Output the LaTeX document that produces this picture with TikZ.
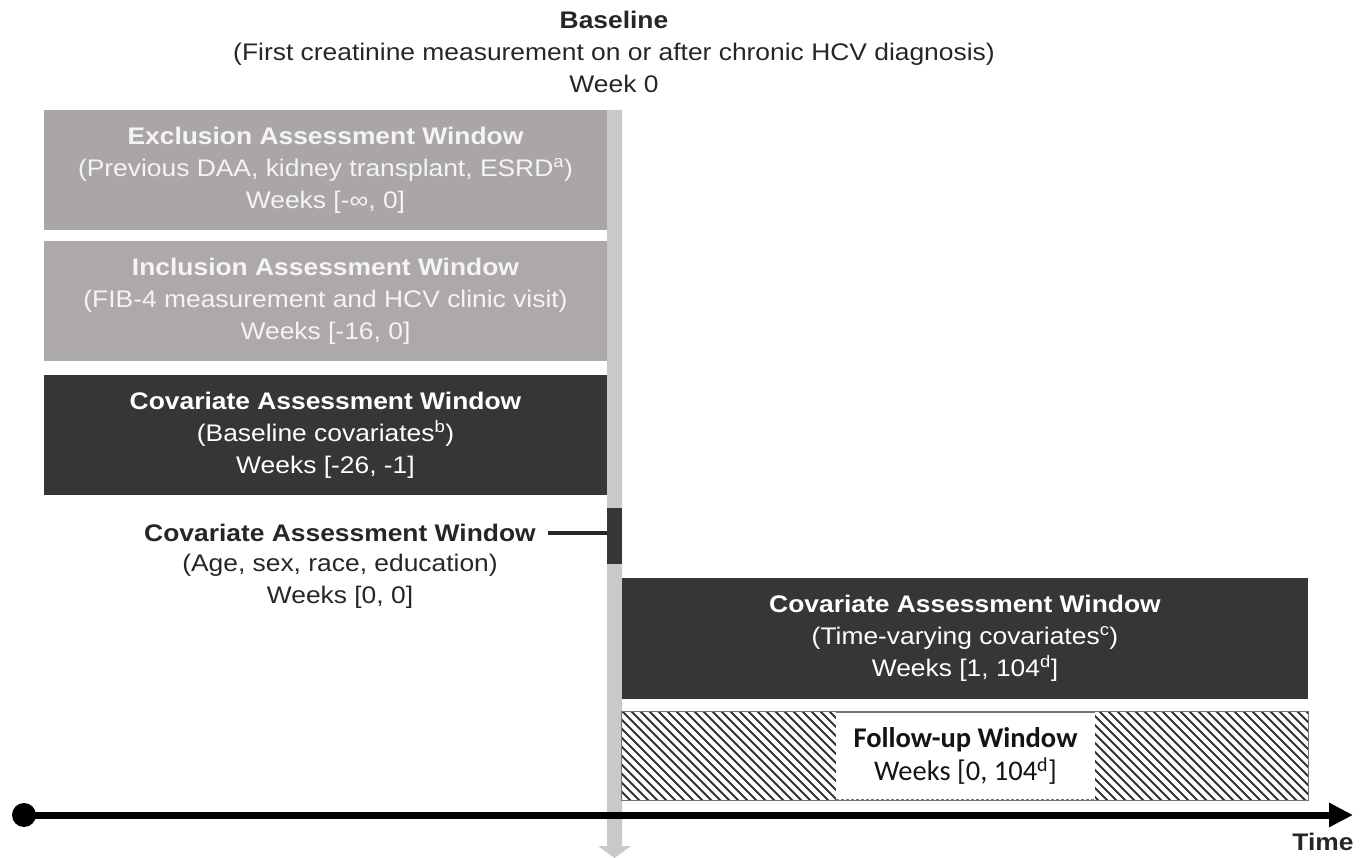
\documentclass[tikz,border=0pt]{standalone}
\usepackage{fontspec}
\setmainfont{Liberation Sans}[FakeStretch=1.1]
\newfontfamily\calib{Carlito}
\usetikzlibrary{arrows.meta}
\definecolor{boxgrayA}{HTML}{A9A6A5}
\definecolor{boxgrayB}{HTML}{ACA9A8}
\definecolor{boxdark}{HTML}{363636}
\definecolor{barGray}{HTML}{C9C9C9}
\definecolor{wtext}{HTML}{F4F4F4}
\begin{document}
\begin{tikzpicture}[x=1pt,y=-1pt,
  every node/.style={font=\fontsize{24}{32}\selectfont, inner sep=0pt, align=center},
  winbox/.style={minimum width=563pt, minimum height=120pt, text=wtext},
  rightbox/.style={minimum width=686pt, minimum height=121pt, fill=boxdark, text=white},
  plain/.style={text=black!85},
  hatchline/.style={line width=1.8pt, black!80}
]
\useasboundingbox (0,0) rectangle (1369,858);
% baseline header
\node[plain] (hdr) at (614,52) {\textbf{Baseline}\\(First creatinine measurement on or after chronic HCV diagnosis)\\Week 0};
% gray vertical bar with arrow
\fill[barGray] (607,110) -- (622,110) -- (622,846) -- (631,846) -- (614.5,858) -- (598,846) -- (607,846) -- cycle;
% left windows
\node[winbox, fill=boxgrayA] (excl) at (325.5,170) {\textbf{Exclusion Assessment Window}\\(Previous DAA, kidney transplant, ESRD\textsuperscript{a})\\Weeks [-∞, 0]};
\node[winbox, fill=boxgrayB] (incl) at (325.5,301.5) {\textbf{Inclusion Assessment Window}\\(FIB-4 measurement and HCV clinic visit)\\Weeks [-16, 0]};
\node[winbox, fill=boxdark, text=white] (covb) at (325.5,435) {\textbf{Covariate Assessment Window}\\(Baseline covariates\textsuperscript{b})\\Weeks [-26, -1]};
% small window at week 0
\node[fill=boxdark, minimum width=15pt, minimum height=55pt] (small) at (614.5,536) {};
\node[plain] (covt) at (340,533) {\textbf{Covariate Assessment Window}};
\node[plain] (covd) at (340,581) {(Age, sex, race, education)\\Weeks [0, 0]};
\draw[line width=3.5pt, black!85] (covt.east) ++(12,0) coordinate (lstart) -- (lstart -| small.west);
% time-varying window
\node[rightbox] (tv) at (965,638.5) {\textbf{Covariate Assessment Window}\\(Time-varying covariates\textsuperscript{c})\\Weeks [1, 104\textsuperscript{d}]};
% follow-up window
\node[minimum width=686pt, minimum height=88pt] (fu) at (965,756) {};
\begin{scope}
  \clip (fu.north west) rectangle (fu.south east);
  \foreach \i in {-100,-91,...,700} \draw[hatchline] (622+\i,710) -- ++(92,92);
\end{scope}
\draw[black!55, line width=1pt] (fu.north west) rectangle (fu.south east);
\node[fill=white, minimum width=259pt, minimum height=87pt, text=black!92, font=\calib\fontsize{28.5}{33}\selectfont] (fut) at (965.5,756) {\textbf{Follow-up Window}\\Weeks [0, 104\textsuperscript{d}]};
\draw[black!55, line width=1pt] (fut.north west) -- (fut.north east);
\draw[black!55, line width=1pt, dash pattern=on 3pt off 2pt] (fut.south west) -- (fut.south east);
% time axis
\node[circle, fill=black, minimum size=24pt] (t0) at (24,815) {};
\coordinate (tend) at (1353,815);
\draw[line width=7pt, -{Triangle[length=24pt,width=23pt]}] (t0.center) -- (tend);
\node[plain] (time) at (1323,842) {\textbf{Time}};
\end{tikzpicture}
\end{document}
